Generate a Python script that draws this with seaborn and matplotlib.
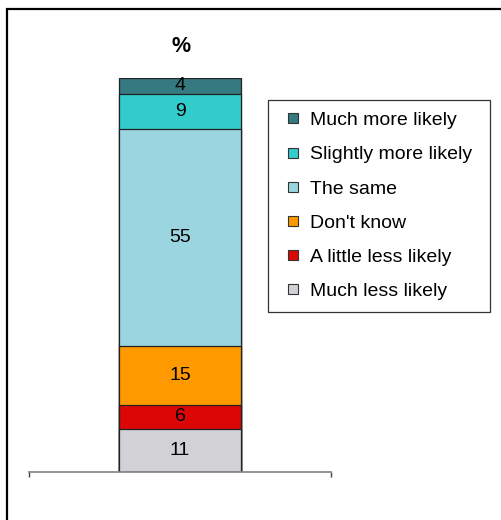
import numpy as np
import pandas as pd
import matplotlib
matplotlib.use("Agg")
import matplotlib.pyplot as plt
from matplotlib.lines import Line2D
from matplotlib.patches import Rectangle
import seaborn as sns

# Data (bottom to top of the stacked bar)
responses = ["Much less likely", "A little less likely", "Don't know",
             "The same", "Slightly more likely", "Much more likely"]
values = [11, 6, 15, 55, 9, 4]
colors = ["#D2D2D6", "#DD0606", "#FF9900", "#9AD5E0", "#33CCCC", "#357A80"]

sns.set_style("white")
plt.rcParams['font.family'] = ['Liberation Sans', 'DejaVu Sans']
plt.rcParams['text.color'] = 'black'

df = pd.DataFrame({"response": responses, "value": values, "color": colors})
df["cum"] = df["value"].cumsum()
df["mid"] = df["cum"] - df["value"] / 2
df["group"] = ""

fig = plt.figure(figsize=(5.01, 5.20), dpi=100)
ax = fig.add_axes([29 / 501, 48 / 520, 302 / 501, 394 / 520])

# stacked bar: draw cumulative bars from the top segment down
for i in reversed(range(len(df))):
    sns.barplot(x=df["group"].iloc[[i]], y=df["cum"].iloc[[i]], color=df["color"][i],
                width=0.404, edgecolor="#222222", linewidth=0.9,
                errorbar=None, saturation=1, ax=ax)

for _, r in df.iterrows():
    ax.text(0, r["mid"], str(r["value"]), ha="center", va="center",
            fontsize=14, color="black")

ax.set_xlim(-0.5, 0.5)
ax.set_ylim(0, 100)
ax.set_xlabel("")
ax.set_ylabel("")
ax.set_yticks([])
ax.set_xticks([-0.5, 0.5])
ax.set_xticklabels(["", ""])
ax.tick_params(axis="x", direction="out", length=3.5, width=1, color="#404040", bottom=True)
for s in ["top", "left", "right"]:
    ax.spines[s].set_visible(False)
ax.spines["bottom"].set_color("#808080")
ax.spines["bottom"].set_linewidth(1.2)
ax.patch.set_alpha(0)

fig.text(181 / 501, 1 - 47 / 520, "%", ha="center", va="center",
         fontsize=15.5, fontweight="bold", color="black")

# legend (top entry first)
handles = [Line2D([], [], marker="s", linestyle="none", markersize=7,
                  markerfacecolor=c, markeredgecolor="#333333", markeredgewidth=0.8)
           for c in colors[::-1]]
leg = fig.legend(handles, responses[::-1], loc="upper left",
                 bbox_to_anchor=(268 / 501, 1 - 100 / 520 - 0.01, 222 / 501, 0.01),
                 mode="expand", fontsize=14, frameon=True, fancybox=False,
                 edgecolor="black", borderpad=0.6, labelspacing=0.85,
                 handlelength=1.37, handletextpad=0.19, borderaxespad=0)
leg.get_frame().set_linewidth(0.9)
for t in leg.get_texts():
    t.set_color("black")

# outer frame
fig.patches.append(Rectangle((6.5 / 501, -0.1), 1.2, 1.1 - 9 / 520 + 0.0,
                             transform=fig.transFigure, fill=False,
                             edgecolor="black", linewidth=1.6))

fig.savefig("out.png", dpi=100)
